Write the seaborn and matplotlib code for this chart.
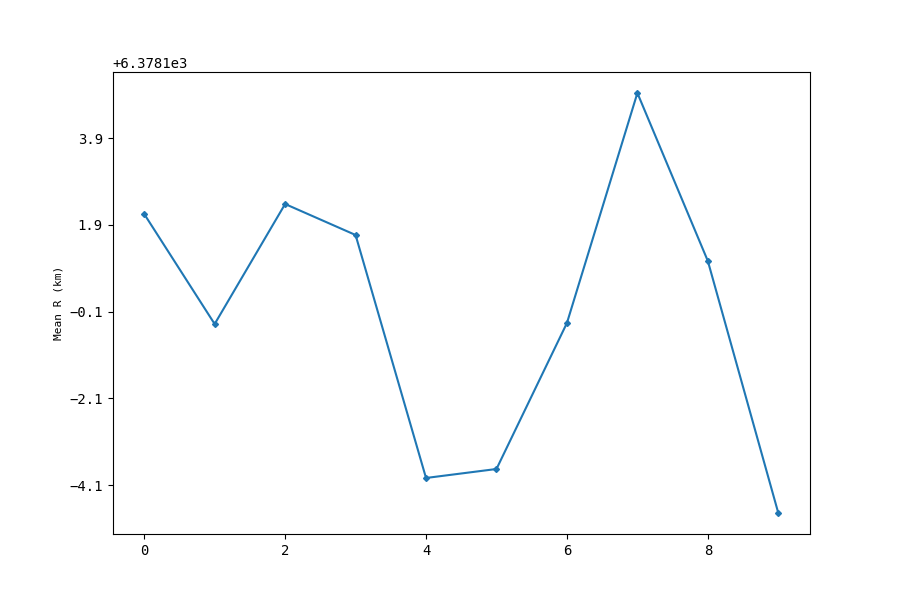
import numpy as np
import pandas as pd
import matplotlib
matplotlib.use('Agg')
import matplotlib.pyplot as plt
from matplotlib.ticker import ScalarFormatter
import seaborn as sns

plt.rcParams['font.family'] = ['DejaVu Sans Mono', 'DejaVu Sans']

# mean radius per index (km)
idx = [0, 1, 2, 3, 4, 5, 6, 7, 8, 9]
mean_r = [6380.249, 6377.714, 6380.479, 6379.765, 6374.166,
          6374.373, 6377.737, 6383.037, 6379.166, 6373.359]

df = pd.DataFrame({'idx': idx, 'mean_r': mean_r})

fig, ax = plt.subplots(figsize=(9, 6), dpi=100)
sns.lineplot(data=df, x='idx', y='mean_r', marker='D', markersize=3,
             markeredgewidth=1, color='#1f77b4', markeredgecolor='#1f77b4', ax=ax)
ax.set_xlabel('')
ax.set_ylabel('Mean R (km)', fontsize=8)
# offset as in the original: +6.3781e3
ax.yaxis.set_major_formatter(ScalarFormatter(useOffset=6378.1))

fig.savefig('out.png', dpi=100)
